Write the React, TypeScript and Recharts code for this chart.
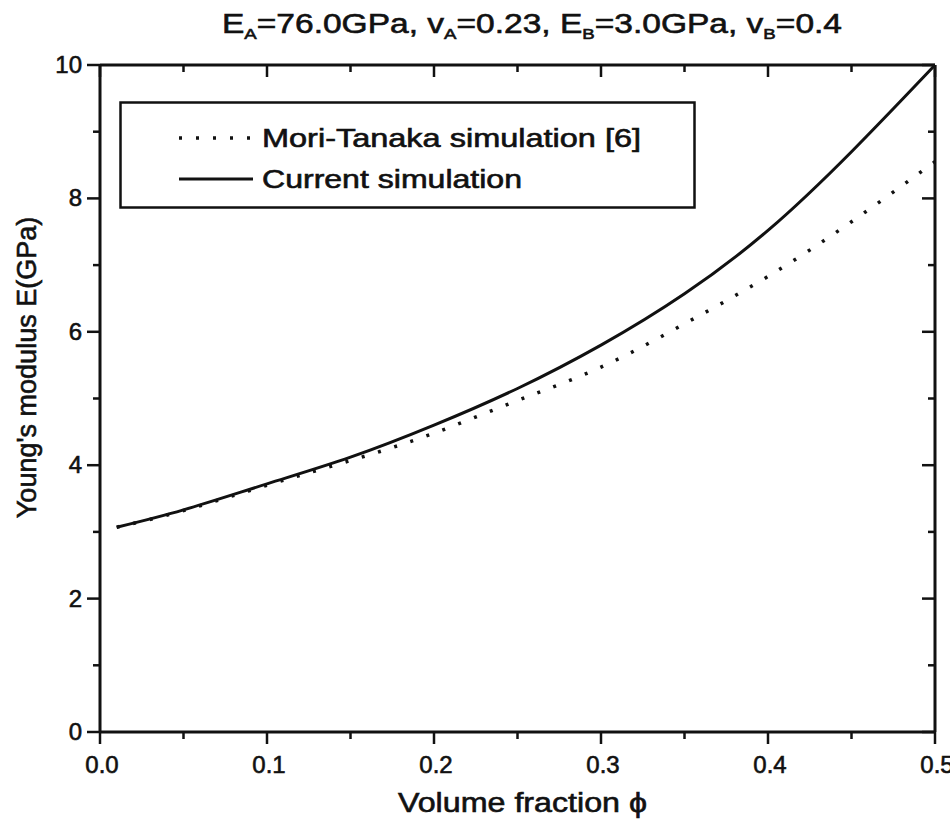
import React from 'react';
import { LineChart, Line, XAxis, YAxis, Legend, ReferenceLine } from 'recharts';

// values
const volumeFraction = [0.01, 0.05, 0.1, 0.15, 0.2, 0.25, 0.3, 0.35, 0.4, 0.45, 0.5];
const moriTanaka = [3.07, 3.32, 3.7, 4.07, 4.48, 4.97, 5.47, 6.12, 6.83, 7.65, 8.55];
const currentSim = [3.07, 3.33, 3.72, 4.12, 4.6, 5.15, 5.8, 6.57, 7.52, 8.7, 10.0];

const xTicks = [0, 0.05, 0.1, 0.15, 0.2, 0.25, 0.3, 0.35, 0.4, 0.45, 0.5];
const yTicks = [0, 1, 2, 3, 4, 5, 6, 7, 8, 9, 10];

const data = volumeFraction.map((phi, i) => ({
  phi,
  mori: moriTanaka[i],
  current: currentSim[i],
}));

const FONT = '"Liberation Sans", Arial, Helvetica, sans-serif';
const INK = '#111';
// scanned print looks heavier than a plain font
const textInk = { fill: INK, stroke: INK, strokeWidth: 0.6 };

// chart layout
const W = 950;
const H = 820;
const M = { top: 65, right: 15, bottom: 0, left: 0 };
const X_AXIS_H = 88;
const Y_AXIS_W = 100;
const PLOT_W = W - M.left - M.right - Y_AXIS_W;
const PLOT_H = H - M.top - M.bottom - X_AXIS_H;

const isMajorX = (v: number) => Math.abs(v * 10 - Math.round(v * 10)) < 1e-6;
const isMajorY = (v: number) => v % 2 === 0;

// bottom ticks point outward, the mirrored top ticks point into the plot
const BottomTick = ({ x, y, payload }: any) => {
  const major = isMajorX(payload.value);
  const len = major ? 12 : 7;
  const top = y - PLOT_H;
  return (
    <g>
      <line x1={x} x2={x} y1={y} y2={y + len} stroke={INK} strokeWidth={2.5} />
      <line x1={x} x2={x} y1={top} y2={top + len} stroke={INK} strokeWidth={2.5} />
      {major && (
        <text x={x + 2} y={y + 41} textAnchor="middle" fontSize={24} fontFamily={FONT} {...textInk}>
          {payload.value.toFixed(1)}
        </text>
      )}
    </g>
  );
};

// left ticks point outward, the mirrored right ticks point into the plot
const LeftTick = ({ x, y, payload }: any) => {
  const major = isMajorY(payload.value);
  const len = major ? 13 : 7;
  const right = x + PLOT_W;
  return (
    <g>
      <line x1={x} x2={x - len} y1={y} y2={y} stroke={INK} strokeWidth={2.5} />
      <line x1={right} x2={right - len} y1={y} y2={y} stroke={INK} strokeWidth={2.5} />
      {major && (
        <text x={x - 18} y={y + 8} textAnchor="end" fontSize={24} fontFamily={FONT} {...textInk}>
          {payload.value}
        </text>
      )}
    </g>
  );
};

const LegendBox = () => (
  <svg width={577} height={108}>
    <rect x={1.5} y={1.5} width={574} height={105} fill="#fff" stroke={INK} strokeWidth={2.5} />
    <line x1={60} x2={136} y1={37} y2={37} stroke={INK} strokeWidth={3.5} strokeDasharray="3 14" />
    <text x={143} y={46} fontSize={25} fontFamily={FONT} {...textInk} textLength={379} lengthAdjust="spacingAndGlyphs">
      Mori-Tanaka simulation [6]
    </text>
    <line x1={60} x2={134} y1={78} y2={78} stroke={INK} strokeWidth={3} />
    <text x={143} y={87} fontSize={25} fontFamily={FONT} {...textInk} textLength={260} lengthAdjust="spacingAndGlyphs">
      Current simulation
    </text>
  </svg>
);

const Title = () => (
  <svg width={W} height={60} style={{ position: 'absolute', left: 0, top: 0 }}>
    <text x={222} y={33} fontSize={27} fontFamily={FONT} {...textInk} textLength={620} lengthAdjust="spacingAndGlyphs">
      E<tspan fontSize={15} dy={6}>A</tspan>
      <tspan dy={-6}>=76.0GPa, v</tspan>
      <tspan fontSize={15} dy={6}>A</tspan>
      <tspan dy={-6}>=0.23, E</tspan>
      <tspan fontSize={15} dy={6}>B</tspan>
      <tspan dy={-6}>=3.0GPa, v</tspan>
      <tspan fontSize={15} dy={6}>B</tspan>
      <tspan dy={-6}>=0.4</tspan>
    </text>
  </svg>
);

const App: React.FC = () => {
  return (
    <div style={{ position: 'absolute', left: 0, top: 0, width: W, height: H, background: '#fff' }}>
      <LineChart width={W} height={H} data={data} margin={M}>
        <XAxis
          dataKey="phi"
          type="number"
          domain={[0, 0.5]}
          ticks={xTicks}
          interval={0}
          height={X_AXIS_H}
          tickSize={0}
          tickMargin={0}
          tickLine={false}
          tick={(p: any) => <BottomTick {...p} />}
          axisLine={{ stroke: INK, strokeWidth: 3 }}
          label={{
            content: ({ viewBox }: any) => (
              <text x={viewBox.x + viewBox.width / 2 + 5} y={viewBox.y + 80} textAnchor="middle" fontSize={27} fontFamily={FONT} {...textInk} textLength={249} lengthAdjust="spacingAndGlyphs">
                Volume fraction ϕ
              </text>
            ),
          }}
        />
        <YAxis
          type="number"
          domain={[0, 10]}
          ticks={yTicks}
          interval={0}
          width={Y_AXIS_W}
          tickSize={0}
          tickMargin={0}
          tickLine={false}
          tick={(p: any) => <LeftTick {...p} />}
          axisLine={{ stroke: INK, strokeWidth: 3 }}
          label={{
            content: ({ viewBox }: any) => {
              const cx = 27;
              const cy = viewBox.y + viewBox.height / 2 - 31;
              return (
                <text x={cx} y={cy} transform={`rotate(-90 ${cx} ${cy})`} textAnchor="middle" dominantBaseline="central" fontSize={27} fontFamily={FONT} {...textInk}>
                  Young's modulus E(GPa)
                </text>
              );
            },
          }}
        />
        {/* top and right edges of the frame */}
        <ReferenceLine y={10} stroke={INK} strokeWidth={3} ifOverflow="visible" />
        <ReferenceLine x={0.5} stroke={INK} strokeWidth={3} ifOverflow="visible" />
        <Legend
          layout="horizontal"
          verticalAlign="middle"
          align="center"
          content={() => <LegendBox />}
          wrapperStyle={{ position: 'absolute', left: 119, top: 101, width: 577, height: 108 }}
        />
        <Line
          type="natural"
          dataKey="mori"
          name="Mori-Tanaka simulation [6]"
          stroke={INK}
          strokeWidth={3.5}
          strokeDasharray="3 14"
          dot={false}
          activeDot={false}
          isAnimationActive={false}
        />
        <Line
          type="natural"
          dataKey="current"
          name="Current simulation"
          stroke={INK}
          strokeWidth={3}
          dot={false}
          activeDot={false}
          isAnimationActive={false}
        />
      </LineChart>
      <Title />
    </div>
  );
};

export default App;
